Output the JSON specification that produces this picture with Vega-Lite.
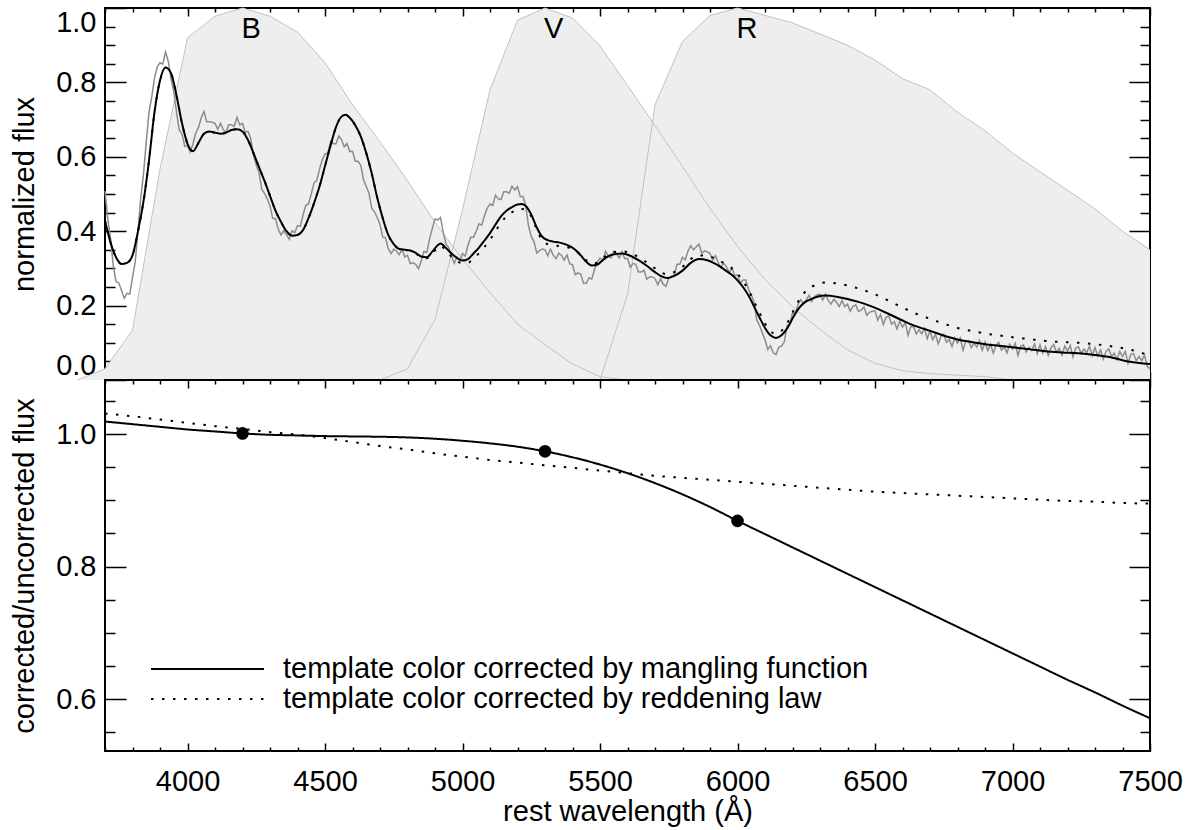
{
"$schema": "https://vega.github.io/schema/vega-lite/v6.json",
"padding": {"left": 9, "top": 5, "right": 5, "bottom": 5},
"config": {
  "font": "Liberation Sans",
  "view": {"stroke": "black", "strokeWidth": 2},
  "axis": {"domain": false, "grid": false, "labelFontSize": 29, "titleFontSize": 29, "titleFontWeight": "normal", "labelColor": "black", "titleColor": "black", "tickColor": "black", "tickWidth": 1.5, "labelFont": "Liberation Sans", "titleFont": "Liberation Sans"}
},
"datasets": {
  "filters": [
    {"band":"B","w":3600,"t":0},{"band":"B","w":3700,"t":0.030},{"band":"B","w":3800,"t":0.134},{"band":"B","w":3900,"t":0.567},{"band":"B","w":4000,"t":0.920},{"band":"B","w":4100,"t":0.978},{"band":"B","w":4200,"t":1.0},{"band":"B","w":4300,"t":0.978},{"band":"B","w":4400,"t":0.935},{"band":"B","w":4500,"t":0.853},{"band":"B","w":4600,"t":0.740},{"band":"B","w":4700,"t":0.640},{"band":"B","w":4800,"t":0.536},{"band":"B","w":4900,"t":0.424},{"band":"B","w":5000,"t":0.325},{"band":"B","w":5100,"t":0.235},{"band":"B","w":5200,"t":0.150},{"band":"B","w":5300,"t":0.095},{"band":"B","w":5400,"t":0.043},{"band":"B","w":5500,"t":0.009},{"band":"B","w":5600,"t":0},
    {"band":"V","w":4700,"t":0},{"band":"V","w":4800,"t":0.030},{"band":"V","w":4900,"t":0.163},{"band":"V","w":5000,"t":0.458},{"band":"V","w":5100,"t":0.780},{"band":"V","w":5200,"t":0.967},{"band":"V","w":5300,"t":1.0},{"band":"V","w":5400,"t":0.973},{"band":"V","w":5500,"t":0.898},{"band":"V","w":5600,"t":0.792},{"band":"V","w":5700,"t":0.684},{"band":"V","w":5800,"t":0.574},{"band":"V","w":5900,"t":0.461},{"band":"V","w":6000,"t":0.359},{"band":"V","w":6100,"t":0.270},{"band":"V","w":6200,"t":0.197},{"band":"V","w":6300,"t":0.135},{"band":"V","w":6400,"t":0.081},{"band":"V","w":6500,"t":0.045},{"band":"V","w":6600,"t":0.025},{"band":"V","w":6700,"t":0.017},{"band":"V","w":6800,"t":0.013},{"band":"V","w":6900,"t":0.009},{"band":"V","w":7000,"t":0},
    {"band":"R","w":5500,"t":0},{"band":"R","w":5600,"t":0.23},{"band":"R","w":5700,"t":0.74},{"band":"R","w":5800,"t":0.91},{"band":"R","w":5900,"t":0.98},{"band":"R","w":6000,"t":1.0},{"band":"R","w":6100,"t":0.98},{"band":"R","w":6200,"t":0.96},{"band":"R","w":6300,"t":0.93},{"band":"R","w":6400,"t":0.90},{"band":"R","w":6500,"t":0.86},{"band":"R","w":6600,"t":0.81},{"band":"R","w":6700,"t":0.78},{"band":"R","w":6800,"t":0.72},{"band":"R","w":6900,"t":0.67},{"band":"R","w":7000,"t":0.61},{"band":"R","w":7100,"t":0.56},{"band":"R","w":7200,"t":0.51},{"band":"R","w":7300,"t":0.46},{"band":"R","w":7400,"t":0.40},{"band":"R","w":7500,"t":0.35}
  ],
  "bands": [{"band":"B","w":4200},{"band":"V","w":5300},{"band":"R","w":6000}],
  "obs": [
    {"w":3700,"f":0.508},{"w":3710,"f":0.434},{"w":3720,"f":0.382},{"w":3730,"f":0.307},{"w":3740,"f":0.265},{"w":3750,"f":0.261},{"w":3760,"f":0.241},{"w":3770,"f":0.220},{"w":3780,"f":0.233},{"w":3790,"f":0.231},
    {"w":3800,"f":0.275},{"w":3810,"f":0.318},{"w":3820,"f":0.403},{"w":3830,"f":0.489},{"w":3840,"f":0.554},{"w":3850,"f":0.640},{"w":3860,"f":0.720},{"w":3870,"f":0.761},{"w":3880,"f":0.812},{"w":3890,"f":0.842},
    {"w":3900,"f":0.853},{"w":3910,"f":0.849},{"w":3920,"f":0.882},{"w":3930,"f":0.857},{"w":3940,"f":0.810},{"w":3950,"f":0.776},{"w":3960,"f":0.721},{"w":3970,"f":0.672},{"w":3980,"f":0.661},{"w":3990,"f":0.628},
    {"w":4000,"f":0.630},{"w":4010,"f":0.613},{"w":4020,"f":0.635},{"w":4030,"f":0.664},{"w":4040,"f":0.679},{"w":4050,"f":0.705},{"w":4060,"f":0.722},{"w":4070,"f":0.694},{"w":4080,"f":0.694},{"w":4090,"f":0.693},
    {"w":4100,"f":0.690},{"w":4110,"f":0.674},{"w":4120,"f":0.690},{"w":4130,"f":0.673},{"w":4140,"f":0.665},{"w":4150,"f":0.686},{"w":4160,"f":0.686},{"w":4170,"f":0.682},{"w":4180,"f":0.706},{"w":4190,"f":0.686},
    {"w":4200,"f":0.690},{"w":4210,"f":0.666},{"w":4220,"f":0.668},{"w":4230,"f":0.649},{"w":4240,"f":0.604},{"w":4250,"f":0.578},{"w":4260,"f":0.558},{"w":4270,"f":0.513},{"w":4280,"f":0.502},{"w":4290,"f":0.487},
    {"w":4300,"f":0.468},{"w":4310,"f":0.434},{"w":4320,"f":0.434},{"w":4330,"f":0.405},{"w":4340,"f":0.390},{"w":4350,"f":0.401},{"w":4360,"f":0.391},{"w":4370,"f":0.378},{"w":4380,"f":0.401},{"w":4390,"f":0.396},
    {"w":4400,"f":0.415},{"w":4410,"f":0.413},{"w":4420,"f":0.443},{"w":4430,"f":0.469},{"w":4440,"f":0.474},{"w":4450,"f":0.500},{"w":4460,"f":0.530},{"w":4470,"f":0.536},{"w":4480,"f":0.567},{"w":4490,"f":0.592},
    {"w":4500,"f":0.608},{"w":4510,"f":0.609},{"w":4520,"f":0.640},{"w":4530,"f":0.635},{"w":4540,"f":0.635},{"w":4550,"f":0.656},{"w":4560,"f":0.646},{"w":4570,"f":0.627},{"w":4580,"f":0.636},{"w":4590,"f":0.614},
    {"w":4600,"f":0.615},{"w":4610,"f":0.588},{"w":4620,"f":0.588},{"w":4630,"f":0.577},{"w":4640,"f":0.539},{"w":4650,"f":0.520},{"w":4660,"f":0.502},{"w":4670,"f":0.461},{"w":4680,"f":0.452},{"w":4690,"f":0.437},
    {"w":4700,"f":0.418},{"w":4710,"f":0.384},{"w":4720,"f":0.382},{"w":4730,"f":0.353},{"w":4740,"f":0.340},{"w":4750,"f":0.352},{"w":4760,"f":0.346},{"w":4770,"f":0.337},{"w":4780,"f":0.351},{"w":4790,"f":0.331},
    {"w":4800,"f":0.335},{"w":4810,"f":0.313},{"w":4820,"f":0.315},{"w":4830,"f":0.311},{"w":4840,"f":0.299},{"w":4850,"f":0.320},{"w":4860,"f":0.346},{"w":4870,"f":0.343},{"w":4880,"f":0.378},{"w":4890,"f":0.407},
    {"w":4900,"f":0.433},{"w":4910,"f":0.430},{"w":4920,"f":0.437},{"w":4930,"f":0.397},{"w":4940,"f":0.365},{"w":4950,"f":0.356},{"w":4960,"f":0.333},{"w":4970,"f":0.314},{"w":4980,"f":0.331},{"w":4990,"f":0.321},
    {"w":5000,"f":0.340},{"w":5010,"f":0.333},{"w":5020,"f":0.363},{"w":5030,"f":0.384},{"w":5040,"f":0.384},{"w":5050,"f":0.400},{"w":5060,"f":0.420},{"w":5070,"f":0.416},{"w":5080,"f":0.442},{"w":5090,"f":0.462},
    {"w":5100,"f":0.473},{"w":5110,"f":0.469},{"w":5120,"f":0.497},{"w":5130,"f":0.487},{"w":5140,"f":0.485},{"w":5150,"f":0.506},{"w":5160,"f":0.506},{"w":5170,"f":0.502},{"w":5180,"f":0.521},{"w":5190,"f":0.511},
    {"w":5200,"f":0.520},{"w":5210,"f":0.493},{"w":5220,"f":0.493},{"w":5230,"f":0.469},{"w":5240,"f":0.414},{"w":5250,"f":0.386},{"w":5260,"f":0.372},{"w":5270,"f":0.341},{"w":5280,"f":0.348},{"w":5290,"f":0.352},
    {"w":5300,"f":0.350},{"w":5310,"f":0.334},{"w":5320,"f":0.352},{"w":5330,"f":0.335},{"w":5340,"f":0.326},{"w":5350,"f":0.341},{"w":5360,"f":0.335},{"w":5370,"f":0.322},{"w":5380,"f":0.336},{"w":5390,"f":0.312},
    {"w":5400,"f":0.310},{"w":5410,"f":0.283},{"w":5420,"f":0.288},{"w":5430,"f":0.284},{"w":5440,"f":0.260},{"w":5450,"f":0.260},{"w":5460,"f":0.275},{"w":5470,"f":0.271},{"w":5480,"f":0.297},{"w":5490,"f":0.317},
    {"w":5500,"f":0.328},{"w":5510,"f":0.322},{"w":5520,"f":0.346},{"w":5530,"f":0.333},{"w":5540,"f":0.328},{"w":5550,"f":0.346},{"w":5560,"f":0.339},{"w":5570,"f":0.328},{"w":5580,"f":0.345},{"w":5590,"f":0.326},
    {"w":5600,"f":0.327},{"w":5610,"f":0.303},{"w":5620,"f":0.313},{"w":5630,"f":0.311},{"w":5640,"f":0.290},{"w":5650,"f":0.290},{"w":5660,"f":0.295},{"w":5670,"f":0.271},{"w":5680,"f":0.277},{"w":5690,"f":0.277},
    {"w":5700,"f":0.273},{"w":5710,"f":0.256},{"w":5720,"f":0.272},{"w":5730,"f":0.257},{"w":5740,"f":0.252},{"w":5750,"f":0.274},{"w":5760,"f":0.279},{"w":5770,"f":0.282},{"w":5780,"f":0.311},{"w":5790,"f":0.311},
    {"w":5800,"f":0.330},{"w":5810,"f":0.323},{"w":5820,"f":0.347},{"w":5830,"f":0.361},{"w":5840,"f":0.350},{"w":5850,"f":0.358},{"w":5860,"f":0.365},{"w":5870,"f":0.341},{"w":5880,"f":0.347},{"w":5890,"f":0.345},
    {"w":5900,"f":0.340},{"w":5910,"f":0.322},{"w":5920,"f":0.334},{"w":5930,"f":0.315},{"w":5940,"f":0.303},{"w":5950,"f":0.314},{"w":5960,"f":0.304},{"w":5970,"f":0.289},{"w":5980,"f":0.301},{"w":5990,"f":0.280},
    {"w":6000,"f":0.283},{"w":6010,"f":0.260},{"w":6020,"f":0.269},{"w":6030,"f":0.269},{"w":6040,"f":0.244},{"w":6050,"f":0.230},{"w":6060,"f":0.210},{"w":6070,"f":0.161},{"w":6080,"f":0.147},{"w":6090,"f":0.127},
    {"w":6100,"f":0.108},{"w":6110,"f":0.082},{"w":6120,"f":0.092},{"w":6130,"f":0.073},{"w":6140,"f":0.068},{"w":6150,"f":0.088},{"w":6160,"f":0.091},{"w":6170,"f":0.102},{"w":6180,"f":0.146},{"w":6190,"f":0.151},
    {"w":6200,"f":0.180},{"w":6210,"f":0.178},{"w":6220,"f":0.203},{"w":6230,"f":0.216},{"w":6240,"f":0.206},{"w":6250,"f":0.215},{"w":6260,"f":0.228},{"w":6270,"f":0.211},{"w":6280,"f":0.224},{"w":6290,"f":0.229},
    {"w":6300,"f":0.230},{"w":6310,"f":0.215},{"w":6320,"f":0.231},{"w":6330,"f":0.214},{"w":6340,"f":0.204},{"w":6350,"f":0.217},{"w":6360,"f":0.209},{"w":6370,"f":0.197},{"w":6380,"f":0.214},{"w":6390,"f":0.197},
    {"w":6400,"f":0.204},{"w":6410,"f":0.185},{"w":6420,"f":0.198},{"w":6430,"f":0.202},{"w":6440,"f":0.184},{"w":6450,"f":0.188},{"w":6460,"f":0.196},{"w":6470,"f":0.174},{"w":6480,"f":0.182},{"w":6490,"f":0.185},
    {"w":6500,"f":0.186},{"w":6510,"f":0.161},{"w":6520,"f":0.176},{"w":6530,"f":0.149},{"w":6540,"f":0.168},{"w":6550,"f":0.173},{"w":6560,"f":0.150},{"w":6570,"f":0.157},{"w":6580,"f":0.137},{"w":6590,"f":0.158},
    {"w":6600,"f":0.142},{"w":6610,"f":0.154},{"w":6620,"f":0.120},{"w":6630,"f":0.143},{"w":6640,"f":0.144},{"w":6650,"f":0.124},{"w":6660,"f":0.135},{"w":6670,"f":0.124},{"w":6680,"f":0.139},{"w":6690,"f":0.111},
    {"w":6700,"f":0.132},{"w":6710,"f":0.108},{"w":6720,"f":0.123},{"w":6730,"f":0.097},{"w":6740,"f":0.117},{"w":6750,"f":0.123},{"w":6760,"f":0.101},{"w":6770,"f":0.109},{"w":6780,"f":0.090},{"w":6790,"f":0.113},
    {"w":6800,"f":0.099},{"w":6810,"f":0.113},{"w":6820,"f":0.080},{"w":6830,"f":0.104},{"w":6840,"f":0.106},{"w":6850,"f":0.087},{"w":6860,"f":0.099},{"w":6870,"f":0.089},{"w":6880,"f":0.106},{"w":6890,"f":0.080},
    {"w":6900,"f":0.102},{"w":6910,"f":0.079},{"w":6920,"f":0.096},{"w":6930,"f":0.072},{"w":6940,"f":0.093},{"w":6950,"f":0.101},{"w":6960,"f":0.080},{"w":6970,"f":0.090},{"w":6980,"f":0.073},{"w":6990,"f":0.096},
    {"w":7000,"f":0.083},{"w":7010,"f":0.098},{"w":7020,"f":0.066},{"w":7030,"f":0.091},{"w":7040,"f":0.094},{"w":7050,"f":0.075},{"w":7060,"f":0.088},{"w":7070,"f":0.079},{"w":7080,"f":0.097},{"w":7090,"f":0.071},
    {"w":7100,"f":0.094},{"w":7110,"f":0.072},{"w":7120,"f":0.090},{"w":7130,"f":0.066},{"w":7140,"f":0.087},{"w":7150,"f":0.095},{"w":7160,"f":0.075},{"w":7170,"f":0.085},{"w":7180,"f":0.067},{"w":7190,"f":0.091},
    {"w":7200,"f":0.078},{"w":7210,"f":0.093},{"w":7220,"f":0.062},{"w":7230,"f":0.086},{"w":7240,"f":0.089},{"w":7250,"f":0.071},{"w":7260,"f":0.083},{"w":7270,"f":0.074},{"w":7280,"f":0.091},{"w":7290,"f":0.065},
    {"w":7300,"f":0.087},{"w":7310,"f":0.064},{"w":7320,"f":0.081},{"w":7330,"f":0.056},{"w":7340,"f":0.077},{"w":7350,"f":0.084},{"w":7360,"f":0.063},{"w":7370,"f":0.072},{"w":7380,"f":0.054},{"w":7390,"f":0.077},
    {"w":7400,"f":0.063},{"w":7410,"f":0.077},{"w":7420,"f":0.045},{"w":7430,"f":0.069},{"w":7440,"f":0.071},{"w":7450,"f":0.052},{"w":7460,"f":0.063},{"w":7470,"f":0.052},{"w":7480,"f":0.067},{"w":7490,"f":0.037},
    {"w":7500,"f":0.030}
  ],
  "tmpl": [
    {"w":3700,"m":0.428,"r":0.428},{"w":3720,"m":0.37,"r":0.37},{"w":3740,"m":0.33,"r":0.33},{"w":3760,"m":0.312,"r":0.312},{"w":3780,"m":0.315,"r":0.315},{"w":3800,"m":0.335,"r":0.335},{"w":3820,"m":0.40,"r":0.40},{"w":3840,"m":0.48,"r":0.48},{"w":3860,"m":0.59,"r":0.59},{"w":3880,"m":0.72,"r":0.72},
    {"w":3900,"m":0.805,"r":0.805},{"w":3920,"m":0.84,"r":0.84},{"w":3940,"m":0.825,"r":0.825},{"w":3960,"m":0.765,"r":0.765},{"w":3980,"m":0.69,"r":0.69},{"w":4000,"m":0.635,"r":0.635},{"w":4020,"m":0.615,"r":0.615},{"w":4040,"m":0.638,"r":0.638},{"w":4060,"m":0.662,"r":0.662},{"w":4080,"m":0.668,"r":0.668},
    {"w":4100,"m":0.665,"r":0.665},{"w":4120,"m":0.662,"r":0.662},{"w":4140,"m":0.665,"r":0.665},{"w":4160,"m":0.672,"r":0.672},{"w":4180,"m":0.674,"r":0.674},{"w":4200,"m":0.668,"r":0.668},{"w":4220,"m":0.645,"r":0.645},{"w":4240,"m":0.61,"r":0.61},{"w":4260,"m":0.572,"r":0.572},{"w":4280,"m":0.535,"r":0.535},
    {"w":4300,"m":0.495,"r":0.495},{"w":4320,"m":0.455,"r":0.455},{"w":4340,"m":0.425,"r":0.425},{"w":4360,"m":0.40,"r":0.40},{"w":4380,"m":0.388,"r":0.388},{"w":4400,"m":0.39,"r":0.39},{"w":4420,"m":0.403,"r":0.403},{"w":4440,"m":0.435,"r":0.435},{"w":4460,"m":0.475,"r":0.475},{"w":4480,"m":0.52,"r":0.52},
    {"w":4500,"m":0.575,"r":0.575},{"w":4520,"m":0.63,"r":0.63},{"w":4540,"m":0.68,"r":0.68},{"w":4560,"m":0.708,"r":0.708},{"w":4575,"m":0.713,"r":0.713},{"w":4590,"m":0.705,"r":0.705},{"w":4610,"m":0.685,"r":0.685},{"w":4630,"m":0.655,"r":0.655},{"w":4650,"m":0.61,"r":0.61},{"w":4670,"m":0.555,"r":0.555},
    {"w":4690,"m":0.49,"r":0.49},{"w":4710,"m":0.435,"r":0.435},{"w":4730,"m":0.39,"r":0.39},{"w":4750,"m":0.365,"r":0.365},{"w":4770,"m":0.352,"r":0.352},{"w":4790,"m":0.35,"r":0.35},{"w":4810,"m":0.348,"r":0.347},{"w":4830,"m":0.342,"r":0.34},{"w":4850,"m":0.332,"r":0.33},{"w":4870,"m":0.33,"r":0.327},
    {"w":4890,"m":0.345,"r":0.34},{"w":4910,"m":0.362,"r":0.356},{"w":4920,"m":0.367,"r":0.361},{"w":4940,"m":0.355,"r":0.348},{"w":4960,"m":0.34,"r":0.331},{"w":4980,"m":0.328,"r":0.319},{"w":5000,"m":0.321,"r":0.314},{"w":5020,"m":0.325,"r":0.315},{"w":5040,"m":0.34,"r":0.327},{"w":5060,"m":0.356,"r":0.341},
    {"w":5080,"m":0.375,"r":0.358},{"w":5100,"m":0.395,"r":0.377},{"w":5120,"m":0.418,"r":0.40},{"w":5140,"m":0.44,"r":0.423},{"w":5160,"m":0.455,"r":0.44},{"w":5180,"m":0.465,"r":0.451},{"w":5200,"m":0.472,"r":0.459},{"w":5215,"m":0.473,"r":0.46},{"w":5230,"m":0.468,"r":0.457},{"w":5250,"m":0.445,"r":0.44},
    {"w":5270,"m":0.41,"r":0.405},{"w":5290,"m":0.385,"r":0.375},{"w":5310,"m":0.376,"r":0.365},{"w":5330,"m":0.372,"r":0.362},{"w":5350,"m":0.37,"r":0.36},{"w":5370,"m":0.366,"r":0.358},{"w":5390,"m":0.36,"r":0.355},{"w":5410,"m":0.35,"r":0.348},{"w":5430,"m":0.335,"r":0.337},{"w":5450,"m":0.318,"r":0.322},
    {"w":5470,"m":0.308,"r":0.313},{"w":5490,"m":0.31,"r":0.315},{"w":5510,"m":0.322,"r":0.327},{"w":5540,"m":0.336,"r":0.341},{"w":5580,"m":0.34,"r":0.346},{"w":5610,"m":0.334,"r":0.341},{"w":5640,"m":0.322,"r":0.33},{"w":5670,"m":0.307,"r":0.316},{"w":5700,"m":0.29,"r":0.30},{"w":5720,"m":0.28,"r":0.29},
    {"w":5745,"m":0.274,"r":0.284},{"w":5770,"m":0.28,"r":0.29},{"w":5800,"m":0.294,"r":0.304},{"w":5830,"m":0.315,"r":0.325},{"w":5860,"m":0.325,"r":0.335},{"w":5890,"m":0.322,"r":0.334},{"w":5920,"m":0.312,"r":0.326},{"w":5950,"m":0.298,"r":0.314},{"w":5980,"m":0.282,"r":0.30},{"w":6000,"m":0.268,"r":0.286},
    {"w":6020,"m":0.25,"r":0.266},{"w":6040,"m":0.227,"r":0.241},{"w":6060,"m":0.198,"r":0.211},{"w":6080,"m":0.168,"r":0.181},{"w":6100,"m":0.14,"r":0.152},{"w":6120,"m":0.12,"r":0.131},{"w":6140,"m":0.113,"r":0.124},{"w":6160,"m":0.12,"r":0.132},{"w":6180,"m":0.138,"r":0.152},{"w":6200,"m":0.165,"r":0.181},
    {"w":6220,"m":0.19,"r":0.21},{"w":6240,"m":0.206,"r":0.232},{"w":6260,"m":0.215,"r":0.246},{"w":6290,"m":0.224,"r":0.257},{"w":6320,"m":0.227,"r":0.262},{"w":6360,"m":0.224,"r":0.26},{"w":6400,"m":0.218,"r":0.254},{"w":6440,"m":0.21,"r":0.246},{"w":6480,"m":0.20,"r":0.236},{"w":6520,"m":0.188,"r":0.224},
    {"w":6560,"m":0.174,"r":0.209},{"w":6600,"m":0.16,"r":0.195},{"w":6640,"m":0.147,"r":0.181},{"w":6680,"m":0.137,"r":0.17},{"w":6720,"m":0.127,"r":0.159},{"w":6760,"m":0.117,"r":0.149},{"w":6800,"m":0.109,"r":0.14},{"w":6850,"m":0.102,"r":0.132},{"w":6900,"m":0.096,"r":0.125},{"w":6950,"m":0.092,"r":0.12},
    {"w":7000,"m":0.088,"r":0.115},{"w":7060,"m":0.083,"r":0.11},{"w":7120,"m":0.077,"r":0.105},{"w":7180,"m":0.074,"r":0.102},{"w":7240,"m":0.072,"r":0.10},{"w":7300,"m":0.067,"r":0.096},{"w":7340,"m":0.063,"r":0.093},{"w":7380,"m":0.057,"r":0.088},{"w":7420,"m":0.05,"r":0.083},{"w":7460,"m":0.046,"r":0.075},
    {"w":7500,"m":0.043,"r":0.065}
  ],
  "corr": [
    {"w":3700,"v":1.019,"kind":"template color corrected by mangling function"},{"w":3800,"v":1.015,"kind":"template color corrected by mangling function"},{"w":3900,"v":1.011,"kind":"template color corrected by mangling function"},{"w":4000,"v":1.007,"kind":"template color corrected by mangling function"},{"w":4100,"v":1.004,"kind":"template color corrected by mangling function"},{"w":4200,"v":1.001,"kind":"template color corrected by mangling function"},{"w":4300,"v":0.999,"kind":"template color corrected by mangling function"},{"w":4400,"v":0.998,"kind":"template color corrected by mangling function"},{"w":4500,"v":0.997,"kind":"template color corrected by mangling function"},{"w":4600,"v":0.9965,"kind":"template color corrected by mangling function"},{"w":4700,"v":0.996,"kind":"template color corrected by mangling function"},{"w":4800,"v":0.995,"kind":"template color corrected by mangling function"},{"w":4900,"v":0.993,"kind":"template color corrected by mangling function"},{"w":5000,"v":0.990,"kind":"template color corrected by mangling function"},{"w":5100,"v":0.986,"kind":"template color corrected by mangling function"},{"w":5200,"v":0.981,"kind":"template color corrected by mangling function"},{"w":5300,"v":0.974,"kind":"template color corrected by mangling function"},{"w":5400,"v":0.965,"kind":"template color corrected by mangling function"},{"w":5500,"v":0.954,"kind":"template color corrected by mangling function"},{"w":5600,"v":0.941,"kind":"template color corrected by mangling function"},{"w":5700,"v":0.926,"kind":"template color corrected by mangling function"},{"w":5800,"v":0.909,"kind":"template color corrected by mangling function"},{"w":5900,"v":0.890,"kind":"template color corrected by mangling function"},{"w":6000,"v":0.869,"kind":"template color corrected by mangling function"},{"w":6100,"v":0.849,"kind":"template color corrected by mangling function"},{"w":6200,"v":0.829,"kind":"template color corrected by mangling function"},{"w":6300,"v":0.809,"kind":"template color corrected by mangling function"},{"w":6400,"v":0.789,"kind":"template color corrected by mangling function"},{"w":6500,"v":0.769,"kind":"template color corrected by mangling function"},{"w":6600,"v":0.749,"kind":"template color corrected by mangling function"},{"w":6700,"v":0.729,"kind":"template color corrected by mangling function"},{"w":6800,"v":0.709,"kind":"template color corrected by mangling function"},{"w":6900,"v":0.689,"kind":"template color corrected by mangling function"},{"w":7000,"v":0.669,"kind":"template color corrected by mangling function"},{"w":7100,"v":0.649,"kind":"template color corrected by mangling function"},{"w":7200,"v":0.629,"kind":"template color corrected by mangling function"},{"w":7300,"v":0.610,"kind":"template color corrected by mangling function"},{"w":7400,"v":0.590,"kind":"template color corrected by mangling function"},{"w":7500,"v":0.571,"kind":"template color corrected by mangling function"},
    {"w":3700,"v":1.031,"kind":"template color corrected by reddening law"},{"w":3800,"v":1.027,"kind":"template color corrected by reddening law"},{"w":3900,"v":1.022,"kind":"template color corrected by reddening law"},{"w":4000,"v":1.017,"kind":"template color corrected by reddening law"},{"w":4100,"v":1.012,"kind":"template color corrected by reddening law"},{"w":4200,"v":1.008,"kind":"template color corrected by reddening law"},{"w":4300,"v":1.003,"kind":"template color corrected by reddening law"},{"w":4400,"v":0.999,"kind":"template color corrected by reddening law"},{"w":4500,"v":0.994,"kind":"template color corrected by reddening law"},{"w":4600,"v":0.988,"kind":"template color corrected by reddening law"},{"w":4700,"v":0.982,"kind":"template color corrected by reddening law"},{"w":4800,"v":0.977,"kind":"template color corrected by reddening law"},{"w":4900,"v":0.971,"kind":"template color corrected by reddening law"},{"w":5000,"v":0.966,"kind":"template color corrected by reddening law"},{"w":5100,"v":0.961,"kind":"template color corrected by reddening law"},{"w":5200,"v":0.957,"kind":"template color corrected by reddening law"},{"w":5300,"v":0.953,"kind":"template color corrected by reddening law"},{"w":5400,"v":0.949,"kind":"template color corrected by reddening law"},{"w":5500,"v":0.945,"kind":"template color corrected by reddening law"},{"w":5600,"v":0.941,"kind":"template color corrected by reddening law"},{"w":5700,"v":0.937,"kind":"template color corrected by reddening law"},{"w":5800,"v":0.934,"kind":"template color corrected by reddening law"},{"w":5900,"v":0.931,"kind":"template color corrected by reddening law"},{"w":6000,"v":0.928,"kind":"template color corrected by reddening law"},{"w":6100,"v":0.925,"kind":"template color corrected by reddening law"},{"w":6200,"v":0.922,"kind":"template color corrected by reddening law"},{"w":6300,"v":0.919,"kind":"template color corrected by reddening law"},{"w":6400,"v":0.916,"kind":"template color corrected by reddening law"},{"w":6500,"v":0.913,"kind":"template color corrected by reddening law"},{"w":6600,"v":0.911,"kind":"template color corrected by reddening law"},{"w":6700,"v":0.909,"kind":"template color corrected by reddening law"},{"w":6800,"v":0.907,"kind":"template color corrected by reddening law"},{"w":6900,"v":0.905,"kind":"template color corrected by reddening law"},{"w":7000,"v":0.903,"kind":"template color corrected by reddening law"},{"w":7100,"v":0.901,"kind":"template color corrected by reddening law"},{"w":7200,"v":0.899,"kind":"template color corrected by reddening law"},{"w":7300,"v":0.898,"kind":"template color corrected by reddening law"},{"w":7400,"v":0.896,"kind":"template color corrected by reddening law"},{"w":7500,"v":0.895,"kind":"template color corrected by reddening law"}
  ],
  "dots": [{"w":4200,"v":1.001},{"w":5300,"v":0.974},{"w":6000,"v":0.869}]
},
"spacing": 0,
"bounds": "flush",
"resolve": {"scale": {"x": "independent", "y": "independent"}, "legend": {"strokeDash": "independent"}},
"vconcat": [
  {
    "width": 1045, "height": 372,
    "layer": [
      {"data": {"name": "filters"}, "mark": {"type": "area", "color": "#eeeeee", "opacity": 1},
       "encoding": {
         "x": {"field": "w", "type": "quantitative", "scale": {"domain": [3700, 7500], "nice": false, "zero": false},
               "axis": {"orient": "bottom", "values": [3700,3800,3900,4000,4100,4200,4300,4400,4500,4600,4700,4800,4900,5000,5100,5200,5300,5400,5500,5600,5700,5800,5900,6000,6100,6200,6300,6400,6500,6600,6700,6800,6900,7000,7100,7200,7300,7400,7500], "labels": false, "labelFlush": false, "title": null, "tickSize": {"condition": {"test": "datum.value % 500 === 0", "value": -8}, "value": -4}}},
         "y": {"field": "t", "type": "quantitative", "stack": null, "scale": {"domain": [0, 1], "nice": false, "zero": false},
               "axis": {"orient": "left", "values": [0,0.05,0.1,0.15,0.2,0.25,0.3,0.35,0.4,0.45,0.5,0.55,0.6,0.65,0.7,0.75,0.8,0.85,0.9,0.95,1], "title": "normalized flux", "labelExpr": "round(datum.value*20) % 4 === 0 ? format(datum.value, '.1f') : ''", "labelFlush": true, "labelPadding": 30, "titlePadding": 16, "tickSize": {"condition": {"test": "round(datum.value*20) % 4 === 0", "value": -21}, "value": -10}}},
         "detail": {"field": "band"}
       }},
      {"data": {"name": "filters"}, "mark": {"type": "line", "color": "#c2c2c2", "strokeWidth": 1},
       "encoding": {
         "x": {"field": "w", "type": "quantitative", "scale": {"domain": [3700, 7500], "nice": false, "zero": false},
               "axis": {"orient": "top", "values": [3700,3800,3900,4000,4100,4200,4300,4400,4500,4600,4700,4800,4900,5000,5100,5200,5300,5400,5500,5600,5700,5800,5900,6000,6100,6200,6300,6400,6500,6600,6700,6800,6900,7000,7100,7200,7300,7400,7500], "labels": false, "labelFlush": false, "title": null, "tickSize": {"condition": {"test": "datum.value % 500 === 0", "value": -8}, "value": -4}}},
         "y": {"field": "t", "type": "quantitative", "scale": {"domain": [0, 1], "nice": false, "zero": false},
               "axis": {"orient": "right", "values": [0,0.05,0.1,0.15,0.2,0.25,0.3,0.35,0.4,0.45,0.5,0.55,0.6,0.65,0.7,0.75,0.8,0.85,0.9,0.95,1], "labels": false, "title": null, "tickSize": {"condition": {"test": "round(datum.value*20) % 4 === 0", "value": -21}, "value": -10}}},
         "detail": {"field": "band"}
       }},
      {"data": {"name": "obs"}, "mark": {"type": "line", "color": "#8c8c8c", "strokeWidth": 1.5},
       "encoding": {
         "x": {"field": "w", "type": "quantitative", "scale": {"domain": [3700, 7500], "nice": false, "zero": false}, "axis": null},
         "y": {"field": "f", "type": "quantitative", "scale": {"domain": [0, 1], "nice": false, "zero": false}, "axis": null}
       }},
      {"data": {"name": "tmpl"}, "mark": {"type": "line", "color": "black", "strokeWidth": 2, "strokeDash": [2.5, 8.5], "interpolate": "monotone"},
       "encoding": {
         "x": {"field": "w", "type": "quantitative", "scale": {"domain": [3700, 7500], "nice": false, "zero": false}, "axis": null},
         "y": {"field": "r", "type": "quantitative", "scale": {"domain": [0, 1], "nice": false, "zero": false}, "axis": null}
       }},
      {"data": {"name": "tmpl"}, "mark": {"type": "line", "color": "black", "strokeWidth": 2, "interpolate": "monotone"},
       "encoding": {
         "x": {"field": "w", "type": "quantitative", "scale": {"domain": [3700, 7500], "nice": false, "zero": false}, "axis": null},
         "y": {"field": "m", "type": "quantitative", "scale": {"domain": [0, 1], "nice": false, "zero": false}, "axis": null}
       }},
      {"data": {"name": "bands"}, "mark": {"type": "text", "align": "left", "baseline": "top", "dy": 7, "dx": -1, "fontSize": 29, "color": "black"},
       "encoding": {
         "x": {"field": "w", "type": "quantitative", "scale": {"domain": [3700, 7500], "nice": false, "zero": false}, "axis": null},
         "y": {"datum": 1, "type": "quantitative", "scale": {"domain": [0, 1], "nice": false, "zero": false}, "axis": null},
         "text": {"field": "band"}
       }}
    ],
    "resolve": {"axis": {"x": "independent", "y": "independent"}}
  },
  {
    "width": 1045, "height": 371,
    "layer": [
      {"data": {"name": "corr"}, "mark": {"type": "line", "color": "black", "strokeWidth": 2, "interpolate": "monotone"},
       "encoding": {
         "x": {"field": "w", "type": "quantitative", "scale": {"domain": [3700, 7500], "nice": false, "zero": false},
               "axis": {"orient": "bottom", "values": [3700,3800,3900,4000,4100,4200,4300,4400,4500,4600,4700,4800,4900,5000,5100,5200,5300,5400,5500,5600,5700,5800,5900,6000,6100,6200,6300,6400,6500,6600,6700,6800,6900,7000,7100,7200,7300,7400,7500], "title": "rest wavelength (Å)", "labelExpr": "datum.value % 500 === 0 ? format(datum.value, 'd') : ''", "labelFlush": false, "labelPadding": 24, "titlePadding": 1, "tickSize": {"condition": {"test": "datum.value % 500 === 0", "value": -8}, "value": -4}}},
         "y": {"field": "v", "type": "quantitative", "scale": {"domain": [0.5215, 1.0817], "nice": false, "zero": false},
               "axis": {"orient": "left", "values": [0.55,0.6,0.65,0.7,0.75,0.8,0.85,0.9,0.95,1,1.05], "title": "corrected/uncorrected flux", "labelExpr": "round(datum.value*20) % 4 === 0 ? format(datum.value, '.1f') : ''", "labelPadding": 30, "titlePadding": 16, "tickSize": {"condition": {"test": "round(datum.value*20) % 4 === 0", "value": -21}, "value": -10}}},
         "strokeDash": {"field": "kind", "type": "nominal",
               "scale": {"domain": ["template color corrected by mangling function", "template color corrected by reddening law"], "range": [[1, 0], [2.5, 8.5]]},
               "legend": {"title": null, "orient": "none", "legendX": 45, "legendY": 275, "symbolType": "stroke", "symbolSize": 12769, "symbolStrokeWidth": 2, "symbolStrokeColor": "black", "labelFontSize": 29, "labelFont": "Liberation Sans", "labelColor": "black", "labelOffset": 18, "labelLimit": 0, "clipHeight": 28, "rowPadding": 1, "padding": 0}}
       }},
      {"data": {"name": "dots"}, "mark": {"type": "point", "filled": true, "color": "black", "size": 160, "opacity": 1},
       "encoding": {
         "x": {"field": "w", "type": "quantitative", "scale": {"domain": [3700, 7500], "nice": false, "zero": false},
               "axis": {"orient": "top", "values": [3700,3800,3900,4000,4100,4200,4300,4400,4500,4600,4700,4800,4900,5000,5100,5200,5300,5400,5500,5600,5700,5800,5900,6000,6100,6200,6300,6400,6500,6600,6700,6800,6900,7000,7100,7200,7300,7400,7500], "labels": false, "labelFlush": false, "title": null, "tickSize": {"condition": {"test": "datum.value % 500 === 0", "value": -8}, "value": -4}}},
         "y": {"field": "v", "type": "quantitative", "scale": {"domain": [0.5215, 1.0817], "nice": false, "zero": false},
               "axis": {"orient": "right", "values": [0.55,0.6,0.65,0.7,0.75,0.8,0.85,0.9,0.95,1,1.05], "labels": false, "title": null, "tickSize": {"condition": {"test": "round(datum.value*20) % 4 === 0", "value": -21}, "value": -10}}}
       }}
    ],
    "resolve": {"axis": {"x": "independent", "y": "independent"}}
  }
]
}
